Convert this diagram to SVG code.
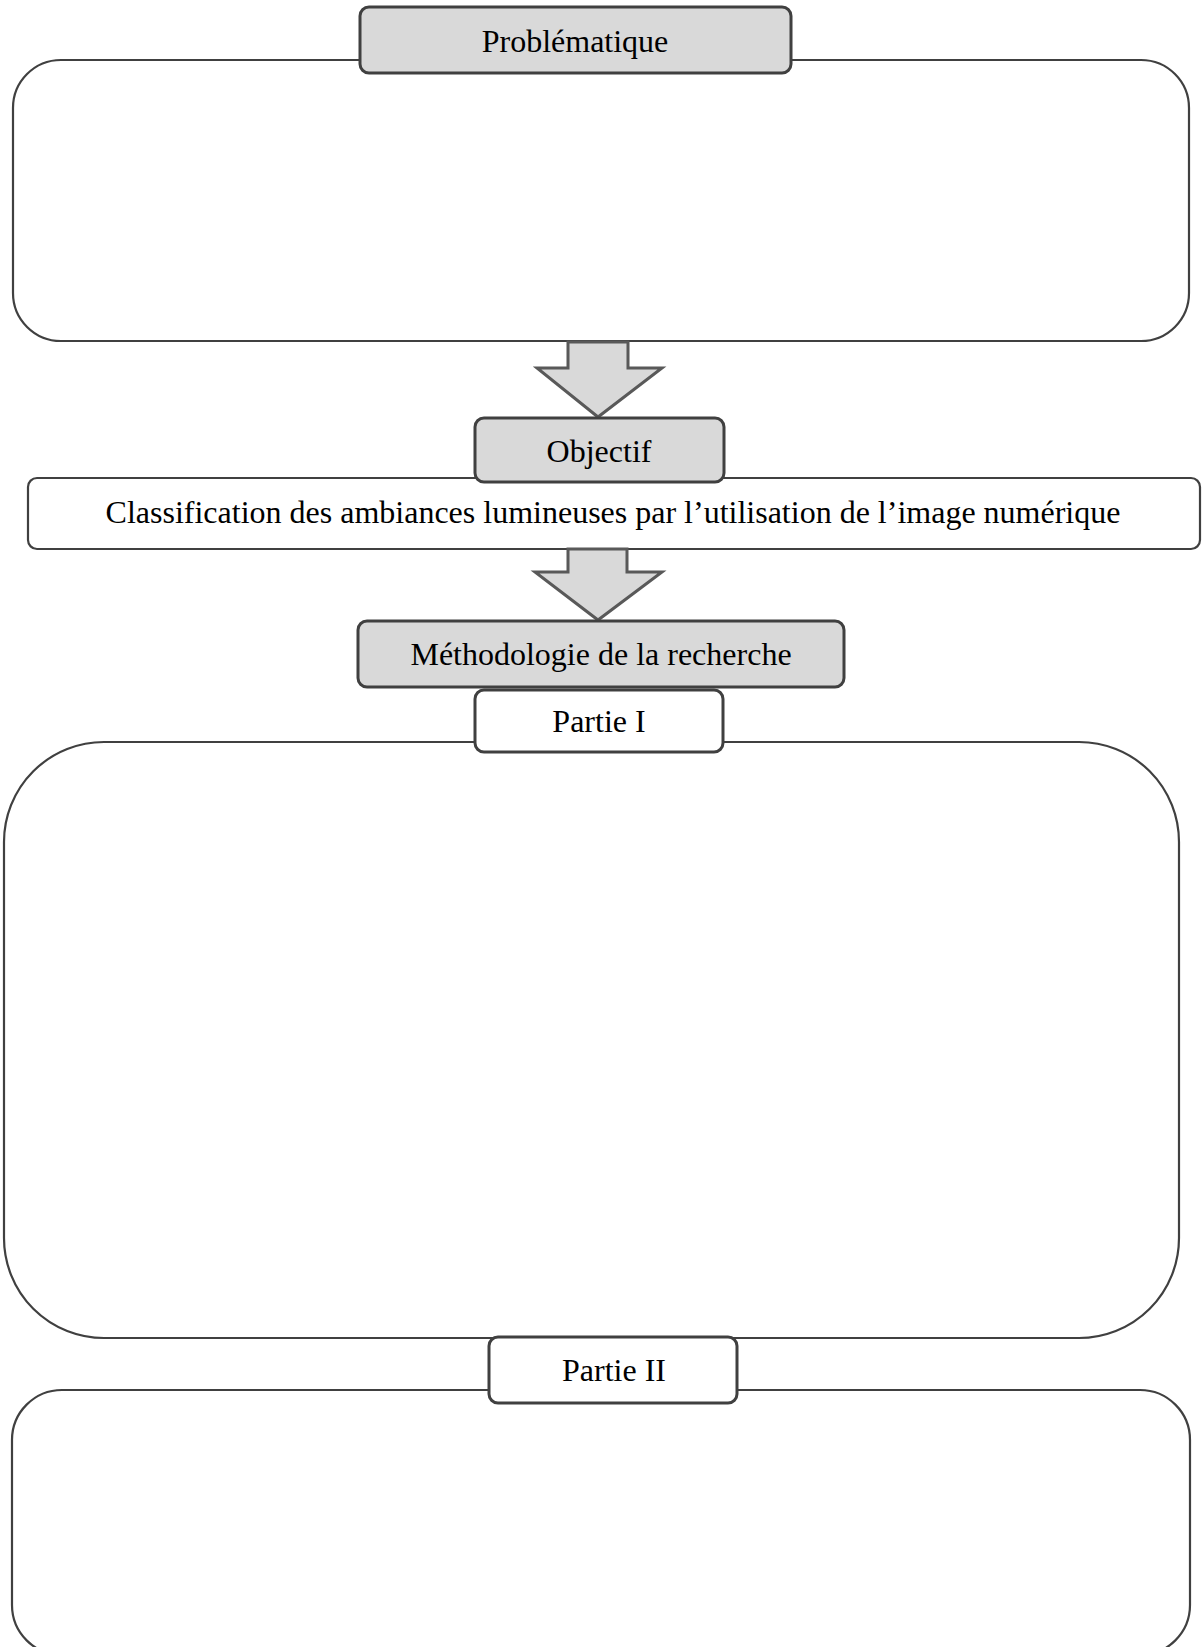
<svg xmlns="http://www.w3.org/2000/svg" width="1202" height="1647" viewBox="0 0 1202 1647">
  <style>
    .panel { fill: #ffffff; stroke: #404040; stroke-width: 2.2; }
    .tab { fill: #d9d9d9; stroke: #404040; stroke-width: 3; }
    .tab-white { fill: #ffffff; stroke: #404040; stroke-width: 3; }
    .arrow { fill: #d9d9d9; stroke: #595959; stroke-width: 3; stroke-linejoin: miter; }
    .label { font-family: "Liberation Serif", "Times New Roman", serif; font-size: 32px; fill: #000000; text-anchor: middle; }
  </style>

  <!-- large content panels -->
  <g id="panel-problematique">
    <rect class="panel" x="13" y="60" width="1176" height="281" rx="48" ry="48"/>
  </g>
  <g id="panel-objectif">
    <rect class="panel" x="28" y="478" width="1172" height="71" rx="9" ry="9"/>
    <text class="label" x="613" y="523">Classification des ambiances lumineuses par l’utilisation de l’image numérique</text>
  </g>
  <g id="panel-partie1">
    <rect class="panel" x="4" y="742" width="1175" height="596" rx="100" ry="100"/>
  </g>
  <g id="panel-partie2">
    <rect class="panel" x="12" y="1390" width="1178" height="265" rx="50" ry="50"/>
  </g>

  <!-- block arrows between sections -->
  <g id="connectors">
    <polygon class="arrow" points="568,342 568,368 537,368 598,417 662,368 628,368 628,342"/>
    <polygon class="arrow" points="568,549 568,572 535,572 598,620 662,572 627,572 627,549"/>
  </g>

  <!-- heading tabs -->
  <g id="tab-problematique">
    <rect class="tab" x="360" y="7" width="431" height="66" rx="9" ry="9"/>
    <text class="label" x="575" y="52">Problématique</text>
  </g>
  <g id="tab-objectif">
    <rect class="tab" x="475" y="418" width="249" height="64" rx="9" ry="9"/>
    <text class="label" x="599" y="462">Objectif</text>
  </g>
  <g id="tab-methodologie">
    <rect class="tab" x="358" y="621" width="486" height="66" rx="9" ry="9"/>
    <text class="label" x="601" y="665">Méthodologie de la recherche</text>
  </g>
  <g id="tab-partie1">
    <rect class="tab-white" x="475" y="690" width="248" height="62" rx="9" ry="9"/>
    <text class="label" x="599" y="732">Partie I</text>
  </g>
  <g id="tab-partie2">
    <rect class="tab-white" x="489" y="1337" width="248" height="66" rx="9" ry="9"/>
    <text class="label" x="614" y="1381">Partie II</text>
  </g>
</svg>
